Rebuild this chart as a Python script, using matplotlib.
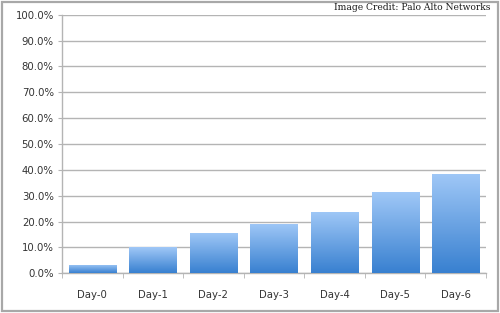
import numpy as np
import matplotlib
matplotlib.use("Agg")
import matplotlib.pyplot as plt
from matplotlib.colors import LinearSegmentedColormap
from matplotlib.patches import Rectangle

days = ["Day-0", "Day-1", "Day-2", "Day-3", "Day-4", "Day-5", "Day-6"]
share = [3.1, 10.0, 15.5, 19.1, 23.8, 31.3, 38.4]
yticks = [0, 10, 20, 30, 40, 50, 60, 70, 80, 90, 100]

grid_c = "#b4b4b4"
text_c = "#333333"

fig = plt.figure(figsize=(5, 3.13), dpi=100)
fig.patches.append(Rectangle((0.004, 0.006), 0.992, 0.988, transform=fig.transFigure,
                             fill=False, edgecolor="#a8a8a8", linewidth=1.6))
ax = fig.add_axes([0.124, 0.127, 0.848, 0.826])

x = np.arange(len(days))
bars = ax.bar(x, share, width=0.78, color="#5b9be0", zorder=2)

# vertical gradient inside each bar: light on top, darker at the base
cmap = LinearSegmentedColormap.from_list("blu", ["#3880d0", "#a0c8f7"])
grad = np.linspace(0, 1, 256).reshape(-1, 1)
for b in bars:
    bx, by = b.get_x(), b.get_y()
    w, h = b.get_width(), b.get_height()
    im = ax.imshow(grad, cmap=cmap, origin="lower", aspect="auto",
                   extent=(bx, bx + w, by, by + h), zorder=3)
    im.set_clip_path(b)

ax.set_xlim(-0.5, len(days) - 0.5)
ax.set_ylim(0, 100)
ax.set_yticks(yticks)
ax.set_yticklabels([f"{v:.1f}%" for v in yticks], fontsize=7.3, color=text_c)
ax.yaxis.grid(True, color=grid_c, linewidth=1.0, zorder=0)
ax.set_axisbelow(True)

ax.set_xticks(x)
ax.set_xticklabels(days, fontsize=7.3, color=text_c)
ax.set_xticks(np.arange(len(days) + 1) - 0.5, minor=True)
ax.tick_params(axis="x", which="major", length=0, pad=12)
ax.tick_params(axis="x", which="minor", length=3.5, color=grid_c, direction="out")
ax.tick_params(axis="y", length=3, color=grid_c, pad=3)

for s in ["top", "right"]:
    ax.spines[s].set_visible(False)
for s in ["left", "bottom"]:
    ax.spines[s].set_color(grid_c)
    ax.spines[s].set_linewidth(1.0)

fig.text(0.98, 0.975, "Image Credit: Palo Alto Networks", ha="right", va="center",
         fontsize=6.6, family="DejaVu Serif", color="#1a1a1a")

fig.savefig("out.png", dpi=100)
